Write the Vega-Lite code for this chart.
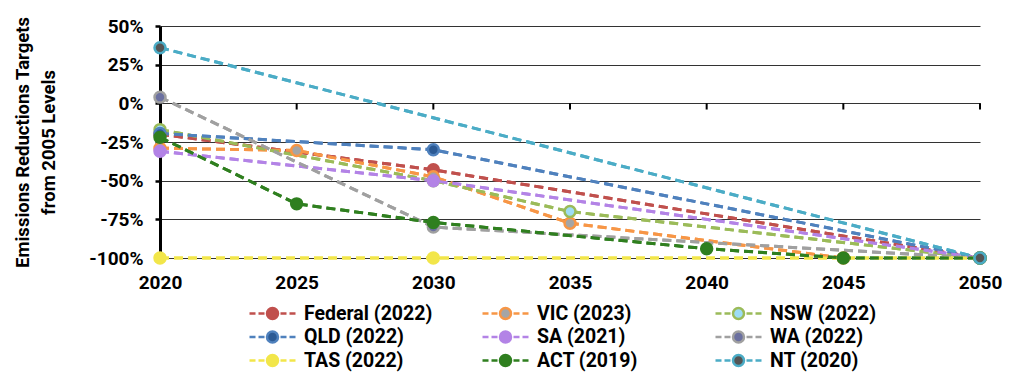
{
  "$schema": "https://vega.github.io/schema/vega-lite/v6.json",
  "width": 820,
  "height": 232,
  "autosize": "none",
  "padding": {"left": 160, "top": 26, "right": 44, "bottom": 114},
  "background": "white",
  "config": {
    "font": "Roboto",
    "view": {"stroke": null},
    "axisX": {
      "title": null, "domain": false, "ticks": false, "grid": false,
      "labelFontSize": 19, "labelFontWeight": "bold", "labelColor": "black",
      "labelPadding": 15, "labelFlush": false, "labelOverlap": false
    },
    "axisY": {
      "labelFontSize": 19, "labelFontWeight": "bold", "labelColor": "black",
      "labelPadding": 12, "labelOverlap": false,
      "domainColor": "black", "domainWidth": 3,
      "tickColor": "black", "tickWidth": 2.5, "tickSize": 5,
      "grid": true, "gridColor": "#333333", "gridWidth": 1,
      "titleFontSize": 18.5, "titleFontWeight": "bold", "titleColor": "black",
      "titleLineHeight": 26, "titlePadding": 30
    }
  },
  "datasets": {
    "targets": [
      {"series": "Federal (2022)", "year": 2020, "value": -20},
      {"series": "Federal (2022)", "year": 2030, "value": -43},
      {"series": "Federal (2022)", "year": 2050, "value": -100},
      {"series": "VIC (2023)", "year": 2020, "value": -29},
      {"series": "VIC (2023)", "year": 2025, "value": -30.5},
      {"series": "VIC (2023)", "year": 2030, "value": -47.5},
      {"series": "VIC (2023)", "year": 2035, "value": -77.5},
      {"series": "VIC (2023)", "year": 2045, "value": -100},
      {"series": "NSW (2022)", "year": 2020, "value": -17},
      {"series": "NSW (2022)", "year": 2030, "value": -50},
      {"series": "NSW (2022)", "year": 2035, "value": -70},
      {"series": "NSW (2022)", "year": 2050, "value": -100},
      {"series": "QLD (2022)", "year": 2020, "value": -19.5},
      {"series": "QLD (2022)", "year": 2030, "value": -30},
      {"series": "QLD (2022)", "year": 2050, "value": -100},
      {"series": "SA (2021)", "year": 2020, "value": -31},
      {"series": "SA (2021)", "year": 2030, "value": -50},
      {"series": "SA (2021)", "year": 2050, "value": -100},
      {"series": "WA (2022)", "year": 2020, "value": 4},
      {"series": "WA (2022)", "year": 2030, "value": -80},
      {"series": "WA (2022)", "year": 2050, "value": -100},
      {"series": "TAS (2022)", "year": 2020, "value": -100},
      {"series": "TAS (2022)", "year": 2030, "value": -100},
      {"series": "TAS (2022)", "year": 2050, "value": -100},
      {"series": "ACT (2019)", "year": 2020, "value": -22},
      {"series": "ACT (2019)", "year": 2025, "value": -65},
      {"series": "ACT (2019)", "year": 2030, "value": -77},
      {"series": "ACT (2019)", "year": 2040, "value": -94},
      {"series": "ACT (2019)", "year": 2045, "value": -100},
      {"series": "ACT (2019)", "year": 2050, "value": -100},
      {"series": "NT (2020)", "year": 2020, "value": 36},
      {"series": "NT (2020)", "year": 2050, "value": -100}
    ],
    "ticks": [
      {"year": 2020}, {"year": 2025}, {"year": 2030}, {"year": 2035},
      {"year": 2040}, {"year": 2045}, {"year": 2050}
    ]
  },
  "layer": [
    {
      "data": {"name": "targets"},
      "mark": {"type": "line", "strokeWidth": 3, "strokeDash": [9, 5]},
      "encoding": {
        "x": {
          "field": "year", "type": "quantitative",
          "scale": {"domain": [2020, 2050], "nice": false, "zero": false},
          "axis": {"values": [2020, 2025, 2030, 2035, 2040, 2045, 2050], "format": "d"}
        },
        "y": {
          "field": "value", "type": "quantitative",
          "scale": {"domain": [-100, 50], "nice": false},
          "axis": {
            "title": ["Emissions Reductions Targets", "from 2005 Levels"],
            "values": [-100, -75, -50, -25, 0, 25, 50],
            "labelExpr": "datum.value + '%'"
          }
        },
        "stroke": {
          "field": "series", "type": "nominal",
          "scale": {
            "domain": ["Federal (2022)", "VIC (2023)", "NSW (2022)", "QLD (2022)", "SA (2021)", "WA (2022)", "TAS (2022)", "ACT (2019)", "NT (2020)"],
            "range": ["#C0504D", "#F79646", "#9BBB59", "#4F81BD", "#B383E6", "#A0A0A0", "#F2E64A", "#2F7F1F", "#4BACC6"]
          },
          "legend": {
            "title": null, "orient": "none", "legendX": 101, "legendY": 276,
            "direction": "horizontal",
            "columns": 3, "gridAlign": "all", "columnPadding": 44, "rowPadding": 1.5,
            "symbolType": "M-2.3,0H-1.7M-1.4,0H-0.8M0.8,0H1.4M1.7,0H2.3M-0.55,0A0.55,0.55 0 1,0 0.55,0A0.55,0.55 0 1,0 -0.55,0Z",
            "symbolSize": 400, "symbolStrokeWidth": 2.5, "symbolOpacity": 1,
            "labelFontSize": 19.5, "labelFontWeight": "bold", "labelColor": "black",
            "labelOffset": 20,
            "encode": {
              "symbols": {"update": {"fill": {"scale": "fill", "field": "value"}}}
            }
          }
        }
      }
    },
    {
      "mark": {"type": "rule", "color": "black", "strokeWidth": 3},
      "encoding": {
        "y": {
          "datum": 0,
          "axis": {
            "title": ["Emissions Reductions Targets", "from 2005 Levels"],
            "values": [-100, -75, -50, -25, 0, 25, 50],
            "labelExpr": "datum.value + '%'"
          }
        }
      }
    },
    {
      "data": {"name": "ticks"},
      "mark": {"type": "rule", "color": "black", "strokeWidth": 2},
      "encoding": {
        "x": {
          "field": "year", "type": "quantitative",
          "axis": {"values": [2020, 2025, 2030, 2035, 2040, 2045, 2050], "format": "d"}
        },
        "y": {
          "datum": 0,
          "axis": {
            "title": ["Emissions Reductions Targets", "from 2005 Levels"],
            "values": [-100, -75, -50, -25, 0, 25, 50],
            "labelExpr": "datum.value + '%'"
          }
        },
        "y2": {"datum": -4}
      }
    },
    {
      "mark": {"type": "rule", "color": "#333333", "strokeWidth": 1},
      "encoding": {
        "x": {
          "datum": 2050,
          "axis": {"values": [2020, 2025, 2030, 2035, 2040, 2045, 2050], "format": "d"}
        }
      }
    },
    {
      "mark": {"type": "rule", "color": "#FF0000", "strokeWidth": 3, "strokeDash": [11, 6]},
      "encoding": {
        "x": {
          "datum": 2025,
          "axis": {"values": [2020, 2025, 2030, 2035, 2040, 2045, 2050], "format": "d"}
        }
      }
    },
    {
      "data": {"name": "targets"},
      "mark": {"type": "line", "strokeWidth": 3, "strokeDash": [9, 5]},
      "encoding": {
        "x": {
          "field": "year", "type": "quantitative",
          "axis": {"values": [2020, 2025, 2030, 2035, 2040, 2045, 2050], "format": "d"}
        },
        "y": {
          "field": "value", "type": "quantitative",
          "axis": {
            "title": ["Emissions Reductions Targets", "from 2005 Levels"],
            "values": [-100, -75, -50, -25, 0, 25, 50],
            "labelExpr": "datum.value + '%'"
          }
        },
        "stroke": {"field": "series", "type": "nominal"}
      }
    },
    {
      "data": {"name": "targets"},
      "mark": {"type": "point", "shape": "circle", "filled": true, "size": 120, "strokeWidth": 2.5, "opacity": 1},
      "encoding": {
        "x": {
          "field": "year", "type": "quantitative",
          "axis": {"values": [2020, 2025, 2030, 2035, 2040, 2045, 2050], "format": "d"}
        },
        "y": {
          "field": "value", "type": "quantitative",
          "axis": {
            "title": ["Emissions Reductions Targets", "from 2005 Levels"],
            "values": [-100, -75, -50, -25, 0, 25, 50],
            "labelExpr": "datum.value + '%'"
          }
        },
        "stroke": {"field": "series", "type": "nominal"},
        "fill": {
          "field": "series", "type": "nominal",
          "scale": {
            "domain": ["Federal (2022)", "VIC (2023)", "NSW (2022)", "QLD (2022)", "SA (2021)", "WA (2022)", "TAS (2022)", "ACT (2019)", "NT (2020)"],
            "range": ["#C0504D", "#A5A5A5", "#9DDCF5", "#2C5A94", "#B383E6", "#6B70A0", "#F2E64A", "#2F7F1F", "#555555"]
          },
          "legend": null
        }
      }
    }
  ]
}
